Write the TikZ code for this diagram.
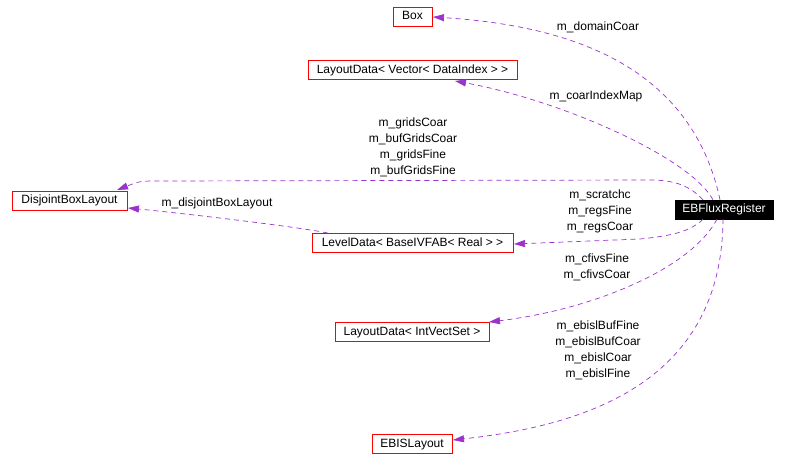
\documentclass[tikz,border=0pt]{standalone}
\usepackage{fontspec}
\setmainfont{Liberation Sans}
\usetikzlibrary{arrows.meta}
\definecolor{edgecol}{HTML}{9A32CD}
\definecolor{boxred}{HTML}{FF0000}
\begin{document}
\begin{tikzpicture}[x=1pt,y=-1pt,
  cls/.style={draw=boxred,line width=0.8pt,fill=white,inner sep=0pt,minimum height=19pt,text height=8.8pt,text depth=2.4pt,font=\fontsize{12}{14}\selectfont},
  mainbox/.style={draw=black,fill=black,text=white,inner sep=0pt,minimum height=19pt,text height=8.8pt,text depth=2.4pt,font=\fontsize{12}{14}\selectfont},
  rel/.style={draw=edgecol,line width=0.7pt,dash pattern=on 5pt off 4pt,-{Triangle[length=11pt,width=7pt,fill=edgecol]}},
  lbl/.style={align=center,inner sep=0pt,font=\fontsize{12}{16}\selectfont}]
\useasboundingbox (0,0) rectangle (786,470);
\node[cls,minimum width=39pt] (box) at (412.5,16.5) {Box};
\node[cls,minimum width=209pt] (ldv) at (412.5,70) {LayoutData< Vector< DataIndex > >};
\node[cls,minimum width=115pt] (dbl) at (69.5,200.5) {DisjointBoxLayout};
\node[cls,minimum width=201pt] (lvd) at (412.5,243) {LevelData< BaseIVFAB< Real > >};
\node[mainbox,minimum width=98pt] (ebf) at (724,209.5) {EBFluxRegister};
\node[cls,minimum width=154pt] (ldi) at (412,332) {LayoutData< IntVectSet >};
\node[cls,minimum width=80pt] (ebis) at (412,444) {EBISLayout};
\coordinate (e1) at (433,17);
\coordinate (e2) at (455,81);
\coordinate (e3) at (117,190);
\coordinate (e4) at (128,208);
\coordinate (e5) at (514,244);
\coordinate (e6) at (489,322);
\coordinate (e7) at (453,440);
\draw[rel] (ebf.north -| 720,0) .. controls (690,60) and (560,25) .. (e1);
\draw[rel] (ebf.north -| 713,0) .. controls (690,157) and (560,100) .. (e2);
\draw[rel] (ebf.north -| 703,0) .. controls (690,186) and (675,180) .. (650,180) -- (160,181) .. controls (140,181) .. (e3);
\draw[rel] (lvd.north -| 328,0) .. controls (300,227) and (180,213) .. (e4);
\draw[rel] (ebf.south -| 703,0) .. controls (690,232) and (670,236) .. (640,239) -- (e5);
\draw[rel] (ebf.south -| 717,0) .. controls (690,270) and (590,310) .. (e6);
\draw[rel] (ebf.south -| 723,0) .. controls (722,380) and (590,425) .. (e7);
\node[lbl] (l1) at (598,27) {m\_domainCoar};
\node[lbl] (l2) at (596,96) {m\_coarIndexMap};
\node[lbl] (l3) at (413,147) {m\_gridsCoar\\m\_bufGridsCoar\\m\_gridsFine\\m\_bufGridsFine};
\node[lbl] (l4) at (217,203) {m\_disjointBoxLayout};
\node[lbl] (l5) at (600,211) {m\_scratchc\\m\_regsFine\\m\_regsCoar};
\node[lbl] (l6) at (597,267) {m\_cfivsFine\\m\_cfivsCoar};
\node[lbl] (l7) at (598,350.5) {m\_ebislBufFine\\m\_ebislBufCoar\\m\_ebislCoar\\m\_ebislFine};
\end{tikzpicture}
\end{document}
